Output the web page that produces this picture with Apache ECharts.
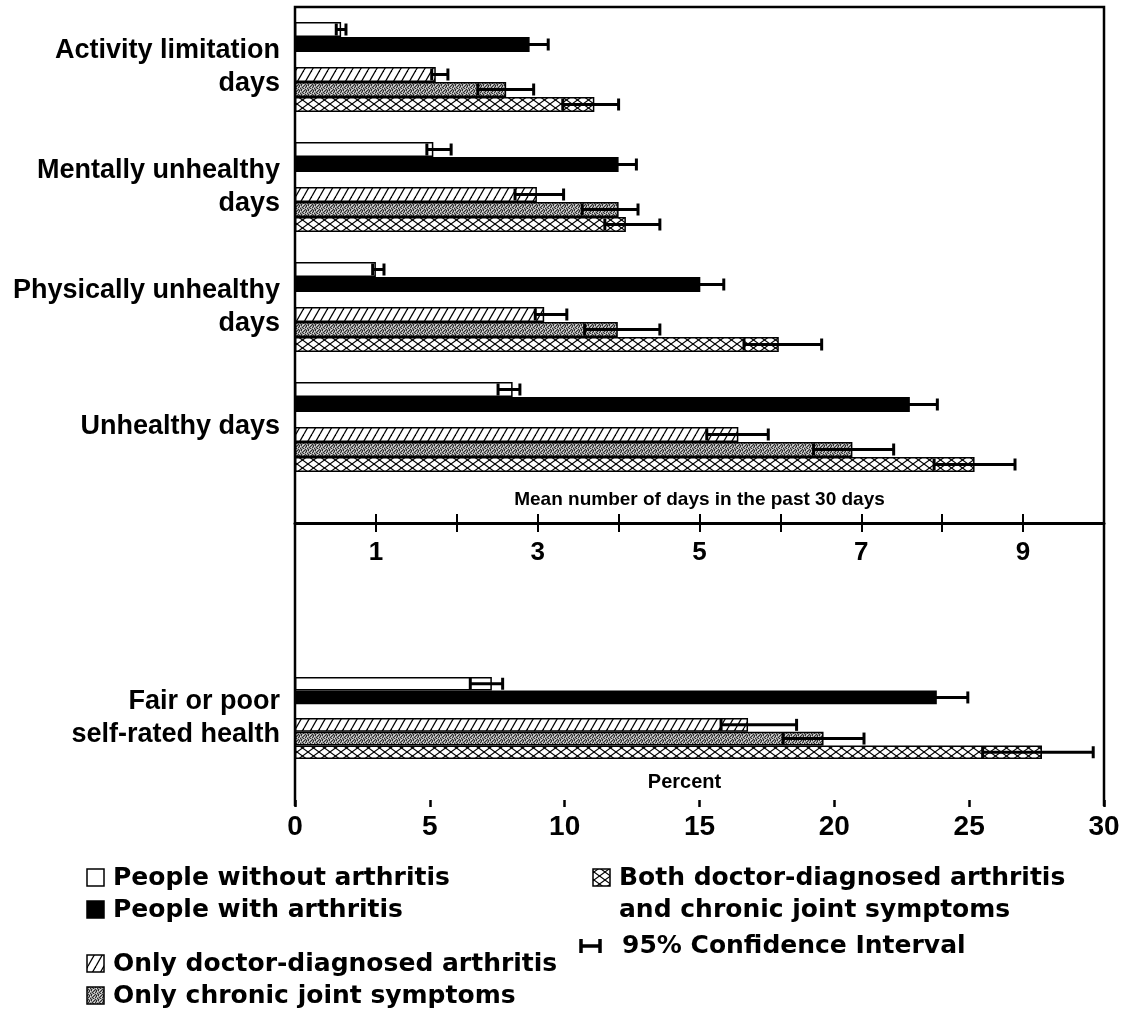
<!DOCTYPE html>
<html><head><meta charset="utf-8">
<script src="https://cdn.jsdelivr.net/npm/echarts@6/dist/echarts.min.js"></script>
<style>html,body{margin:0;padding:0;background:#fff}#c{width:1125px;height:1012px}</style>
</head><body><div id="c"></div>
<script>
// ---------- DATA ----------
const dayCategories = ['Activity limitation\ndays', 'Mentally unhealthy\ndays', 'Physically unhealthy\ndays', 'Unhealthy days'];
const dayTicks = [1, 3, 5, 7, 9];
// Mean number of days in the past 30 days
const withoutMean = [0.57, 1.71, 1.00, 2.69];
const withoutLow  = [0.51, 1.63, 0.96, 2.51];
const withoutHigh = [0.63, 1.93, 1.10, 2.78];
const withMean = [2.90, 4.00, 5.01, 7.60];
const withLow  = [2.67, 3.78, 4.72, 7.26];
const withHigh = [3.13, 4.22, 5.30, 7.94];
const doctorMean = [1.74, 2.99, 3.08, 5.48];
const doctorLow  = [1.69, 2.72, 2.97, 5.09];
const doctorHigh = [1.89, 3.32, 3.36, 5.85];
const chronicMean = [2.61, 4.00, 3.99, 6.89];
const chronicLow  = [2.26, 3.55, 3.58, 6.41];
const chronicHigh = [2.95, 4.24, 4.51, 7.40];
const bothMean = [3.70, 4.09, 5.98, 8.40];
const bothLow  = [3.31, 3.83, 5.55, 7.90];
const bothHigh = [4.00, 4.51, 6.51, 8.90];

const healthCategories = ['Fair or poor\nself-rated health'];
// Percent
const healthWithoutMean = [7.3],  healthWithoutLow = [6.5],  healthWithoutHigh = [7.7];
const healthWithMean = [23.8],    healthWithLow = [22.6],    healthWithHigh = [24.95];
const healthDoctorMean = [16.8],  healthDoctorLow = [15.8],  healthDoctorHigh = [18.6];
const healthChronicMean = [19.6], healthChronicLow = [18.1], healthChronicHigh = [21.1];
const healthBothMean = [27.7],    healthBothLow = [25.5],    healthBothHigh = [29.6];

const seriesNames = ['People without arthritis', 'People with arthritis', 'Only doctor-diagnosed arthritis', 'Only chronic joint symptoms', 'Both doctor-diagnosed arthritis and chronic joint symptoms'];

// ---------- PATTERNS ----------
function hatchCanvas() {
  const w = 8, h = 14, c = document.createElement('canvas');
  c.width = w; c.height = h;
  const g = c.getContext('2d');
  g.fillStyle = '#fff'; g.fillRect(0, 0, w, h);
  g.strokeStyle = '#000'; g.lineWidth = 1.3;
  for (const dx of [-w, 0, w]) { g.beginPath(); g.moveTo(dx, h); g.lineTo(dx + w, 0); g.stroke(); }
  return c;
}
function crossCanvas() {
  const w = 11, h = 8, c = document.createElement('canvas');
  c.width = w; c.height = h;
  const g = c.getContext('2d');
  g.fillStyle = '#fff'; g.fillRect(0, 0, w, h);
  g.strokeStyle = '#000'; g.lineWidth = 1.1;
  for (const dy of [-h, 0, h]) {
    g.beginPath(); g.moveTo(0, dy); g.lineTo(w, dy + h); g.stroke();
    g.beginPath(); g.moveTo(0, dy + h); g.lineTo(w, dy); g.stroke();
  }
  return c;
}
function stippleCanvas() {
  const c = document.createElement('canvas');
  c.width = 7; c.height = 5;
  const g = c.getContext('2d');
  g.fillStyle = '#9c9c9c'; g.fillRect(0, 0, 7, 5);
  g.fillStyle = '#2e2e2e';
  const dots = [[0,0],[3,0],[5,1],[1,2],[4,2],[6,3],[2,3],[0,4],[4,4],[5,0],[2,1]];
  dots.forEach(d => g.fillRect(d[0], d[1], 1, 1));
  g.fillStyle = '#e0e0e0';
  [[1,0],[6,1],[3,2],[5,3],[2,4]].forEach(d => g.fillRect(d[0], d[1], 1, 1));
  return c;
}
const fills = [
  '#ffffff',
  '#000000',
  { image: hatchCanvas(), repeat: 'repeat' },
  { image: stippleCanvas(), repeat: 'repeat' },
  { image: crossCanvas(), repeat: 'repeat' }
];

// ---------- BUILD ----------
const topMeans = [withoutMean, withMean, doctorMean, chronicMean, bothMean];
const topLows = [withoutLow, withLow, doctorLow, chronicLow, bothLow];
const topHighs = [withoutHigh, withHigh, doctorHigh, chronicHigh, bothHigh];
const botMeans = [healthWithoutMean, healthWithMean, healthDoctorMean, healthChronicMean, healthBothMean];
const botLows = [healthWithoutLow, healthWithLow, healthDoctorLow, healthChronicLow, healthBothLow];
const botHighs = [healthWithoutHigh, healthWithHigh, healthDoctorHigh, healthChronicHigh, healthBothHigh];
const slots = [0, 1, 3, 4, 5]; // slot 2 is the empty spacer
const TOP_BW = 15, BOT_BW = 13.7;

function barSeries(name, data, idx, xi, yi, bw) {
  return {
    name: name, type: 'bar', xAxisIndex: xi, yAxisIndex: yi, data: data,
    barWidth: bw, barGap: '0%', barCategoryGap: '0%',
    itemStyle: { color: fills[idx], borderColor: '#000', borderWidth: 1.5 },
    silent: true, z: 2
  };
}
function spacer(xi, yi, n, bw) {
  return { name: 'spacer', type: 'bar', xAxisIndex: xi, yAxisIndex: yi, data: new Array(n).fill('-'), barWidth: bw, barGap: '0%', silent: true };
}
function errSeries(lows, highs, slot, xi, yi, bw) {
  const data = lows.map((l, i) => [i, l, highs[i]]);
  return {
    type: 'custom', xAxisIndex: xi, yAxisIndex: yi, data: data, z: 5, silent: true,
    encode: { x: [1, 2], y: 0 },
    renderItem: function (params, api) {
      const cat = api.value(0);
      const lo = api.coord([api.value(1), cat]);
      const hi = api.coord([api.value(2), cat]);
      const y = lo[1] + (slot - 2.5) * bw;
      const h = 12;
      const st = { stroke: '#000', lineWidth: 3 };
      return {
        type: 'group', children: [
          { type: 'line', shape: { x1: lo[0], y1: y, x2: hi[0], y2: y }, style: st },
          { type: 'line', shape: { x1: lo[0], y1: y - h / 2, x2: lo[0], y2: y + h / 2 }, style: st },
          { type: 'line', shape: { x1: hi[0], y1: y - h / 2, x2: hi[0], y2: y + h / 2 }, style: st }
        ]
      };
    }
  };
}

const series = [];
[[topMeans, topLows, topHighs, 0, 0, TOP_BW, dayCategories.length], [botMeans, botLows, botHighs, 2, 1, BOT_BW, healthCategories.length]].forEach(p => {
  const [means, lows, highs, xi, yi, bw, n] = p;
  series.push(barSeries(seriesNames[0], means[0], 0, xi, yi, bw));
  series.push(barSeries(seriesNames[1], means[1], 1, xi, yi, bw));
  series.push(spacer(xi, yi, n, bw));
  series.push(barSeries(seriesNames[2], means[2], 2, xi, yi, bw));
  series.push(barSeries(seriesNames[3], means[3], 3, xi, yi, bw));
  series.push(barSeries(seriesNames[4], means[4], 4, xi, yi, bw));
  for (let k = 0; k < 5; k++) series.push(errSeries(lows[k], highs[k], slots[k], xi, yi, bw));
});

const FONT = '"Liberation Sans", Arial, sans-serif';
const LFONT = '"DejaVu Sans", sans-serif';
const catLabel = { color: '#000', fontFamily: FONT, fontWeight: 'bold', fontSize: 27, lineHeight: 33, margin: 15 };

const legendRows = [
  { x: 87, y: 878, icon: 0, text: 'People without arthritis' },
  { x: 87, y: 910, icon: 1, text: 'People with arthritis' },
  { x: 87, y: 964, icon: 2, text: 'Only doctor-diagnosed arthritis' },
  { x: 87, y: 996, icon: 3, text: 'Only chronic joint symptoms' },
  { x: 593, y: 878, icon: 4, text: 'Both doctor-diagnosed arthritis' },
  { x: 593, y: 910, icon: -1, text: 'and chronic joint symptoms' }
];
const graphics = [
  { type: 'polyline', shape: { points: [[295, 806], [295, 7], [1104, 7], [1104, 806]] }, style: { stroke: '#000', lineWidth: 2.5, fill: null }, silent: true }
];
legendRows.forEach(r => {
  if (r.icon >= 0) graphics.push({ type: 'rect', shape: { x: r.x, y: r.y - 9, width: 17, height: 17 }, style: { fill: fills[r.icon], stroke: '#000', lineWidth: 1.5 }, silent: true });
  graphics.push({ type: 'text', x: r.x + 26, y: r.y, style: { text: r.text, fill: '#000', font: 'bold 25px ' + LFONT, textVerticalAlign: 'middle', textAlign: 'left' }, silent: true });
});
// confidence interval legend
graphics.push({ type: 'line', shape: { x1: 580, y1: 946, x2: 601, y2: 946 }, style: { stroke: '#000', lineWidth: 3.5 }, silent: true });
graphics.push({ type: 'line', shape: { x1: 581, y1: 939, x2: 581, y2: 953 }, style: { stroke: '#000', lineWidth: 3.5 }, silent: true });
graphics.push({ type: 'line', shape: { x1: 600, y1: 939, x2: 600, y2: 953 }, style: { stroke: '#000', lineWidth: 3.5 }, silent: true });
graphics.push({ type: 'text', x: 622, y: 946, style: { text: '95% Confidence Interval', fill: '#000', font: 'bold 25px ' + LFONT, textVerticalAlign: 'middle', textAlign: 'left' }, silent: true });

const option = {
  animation: false,
  backgroundColor: '#fff',
  grid: [
    { left: 295, right: 21, top: 7, height: 480 },
    { left: 295, right: 21, top: 636, height: 164 }
  ],
  xAxis: [
    {
      gridIndex: 0, type: 'value', min: 0, max: 10, interval: 1, position: 'bottom', offset: 36,
      axisLine: { show: true, lineStyle: { color: '#000', width: 3 } },
      axisTick: { show: true, length: 9, lineStyle: { color: '#000', width: 2 } },
      axisLabel: { color: '#000', fontFamily: FONT, fontWeight: 'bold', fontSize: 26, margin: 17,
        formatter: v => (dayTicks.indexOf(v) >= 0 ? String(v) : '') },
      splitLine: { show: false },
      name: 'Mean number of days in the past 30 days', nameLocation: 'middle', nameGap: -33,
      nameTextStyle: { color: '#000', fontFamily: FONT, fontWeight: 'bold', fontSize: 19 }
    },
    {
      gridIndex: 0, type: 'value', min: 0, max: 10, interval: 1, position: 'bottom', offset: 36,
      axisLine: { show: false },
      axisTick: { show: true, inside: true, length: 9, lineStyle: { color: '#000', width: 2 } },
      axisLabel: { show: false }, splitLine: { show: false }
    },
    {
      gridIndex: 1, type: 'value', min: 0, max: 30, interval: 5, position: 'bottom',
      axisLine: { show: false },
      axisTick: { show: true, length: 7, lineStyle: { color: '#000', width: 2.5 } },
      axisLabel: { color: '#000', fontFamily: FONT, fontWeight: 'bold', fontSize: 28, margin: 13 },
      splitLine: { show: false },
      name: 'Percent', nameLocation: 'middle', nameGap: -28,
      nameTextStyle: { color: '#000', fontFamily: FONT, fontWeight: 'bold', fontSize: 20, padding: [0, 30, 0, 0] }
    }
  ],
  yAxis: [
    {
      gridIndex: 0, type: 'category', inverse: true,
      data: dayCategories.map((c, i) => ({ value: c, textStyle: { padding: i < 3 ? [0, 0, 8, 0] : [0, 0, 0, 0] } })),
      axisLine: { show: false }, axisTick: { show: false }, axisLabel: catLabel
    },
    {
      gridIndex: 1, type: 'category', inverse: true, data: healthCategories,
      axisLine: { show: false }, axisTick: { show: false }, axisLabel: catLabel
    }
  ],
  graphic: graphics,
  series: series
};
const chart = echarts.init(document.getElementById('c'));
chart.setOption(option);
</script>
</body></html>
